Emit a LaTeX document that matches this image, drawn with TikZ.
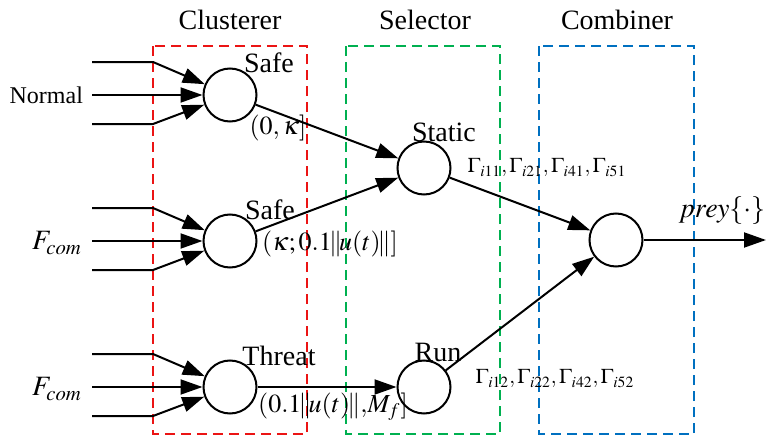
\documentclass[tikz,border=0pt]{standalone}
\usepackage{mathptmx}
\usepackage{fontspec}
\setmainfont{Liberation Serif}
\usetikzlibrary{arrows.meta}

\begin{document}
\begin{tikzpicture}[x=0.5pt, y=-0.5pt,
  font=\fontsize{14}{16}\selectfont,
  unit/.style={draw, circle, line width=1pt, minimum size=26.5pt, inner sep=0pt},
  feed/.style={line width=1pt, -{Triangle[length=11pt,width=7.5pt]}},
  stage/.style={dash pattern=on 5pt off 3pt, line width=0.8pt},
  interval/.style={font=\fontsize{13}{15}\selectfont},
  gam/.style={font=\fontsize{10.5}{12}\selectfont}]
\useasboundingbox (0,0) rectangle (768,439);
\definecolor{clured}{RGB}{235,20,20}
\definecolor{selgreen}{RGB}{0,176,80}
\definecolor{comblue}{RGB}{0,112,192}

% the three stages
\draw[stage, clured] (153,46) rectangle (307,434);
\draw[stage, selgreen] (346,46) rectangle (500,434);
\draw[stage, comblue] (539,46) rectangle (694,434);
\node (tclu) at (230,20) {Clusterer};
\node (tsel) at (425,20) {Selector};
\node (tcom) at (617,20) {Combiner};

% units
\node[unit] (safeA) at (230,95) {};
\node[unit] (safeB) at (230,241) {};
\node[unit] (threat) at (230,387) {};
\node[unit] (static) at (424,168) {};
\node[unit] (run) at (424,387) {};
\node[unit] (comb) at (616,240) {};

\node (lsafeA) at (269,63) {Safe};
\node (lsafeB) at (270,210) {Safe};
\node (lthreat) at (279,356) {Threat};
\node (lstatic) at (444,132) {Static};
\node (lrun) at (438,352) {Run};

% inputs of the clusterer
\foreach \n/\y in {safeA/95, safeB/241, threat/387} {
  \coordinate (\n-a) at (92,{\y-33});
  \coordinate (\n-b) at (153,{\y-33});
  \coordinate (\n-m) at (92,\y);
  \coordinate (\n-c) at (92,{\y+29});
  \coordinate (\n-d) at (153,{\y+29});
  \draw[feed] (\n-a) -- (\n-b) -- (\n);
  \draw[feed] (\n-m) -- (\n);
  \draw[feed] (\n-c) -- (\n-d) -- (\n);
}
\node[anchor=east, font=\fontsize{12}{14}\selectfont] (normal) at (90,95) {Normal};
\node (fcomA) at (57,243) {$F_{com}$};
\node (fcomB) at (57,389) {$F_{com}$};

% links between the stages
\draw[feed] (safeA) -- (static);
\draw[feed] (safeB) -- (static);
\draw[feed] (threat) -- (run);
\draw[feed] (static) -- (comb);
\draw[feed] (run) -- (comb);
\coordinate (out) at (766,240);
\draw[feed] (comb) -- (out);

\node[interval] (rA) at (278,128) {$(0,\kappa]$};
\node[interval] (rB) at (330,244) {$(\kappa;0.1\!\|\!u(t)\!\|]$};
\node[interval] (rC) at (333,407) {$(0.1\!\|\!u(t)\!\|,\!M_f]$};
\node[gam] (gA) at (547,168) {$\Gamma_{i11},\Gamma_{i21},\Gamma_{i41},\Gamma_{i51}$};
\node[gam] (gB) at (555,379) {$\Gamma_{i12},\Gamma_{i22},\Gamma_{i42},\Gamma_{i52}$};
\node (prey) at (722,211) {$prey\{\cdot\}$};
\end{tikzpicture}
\end{document}
